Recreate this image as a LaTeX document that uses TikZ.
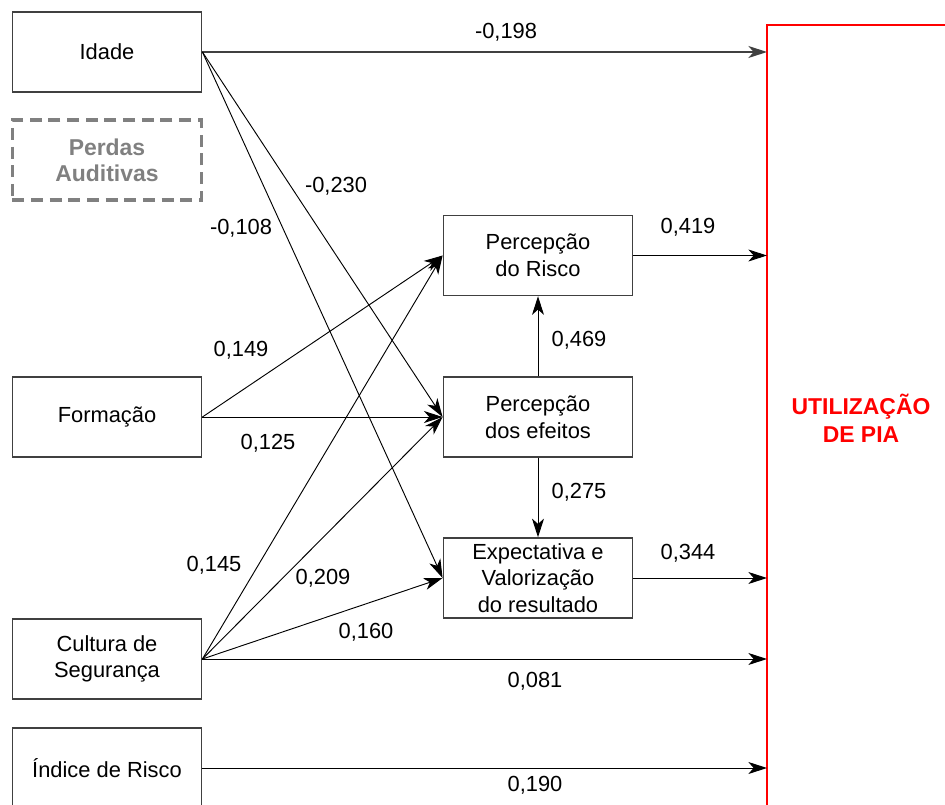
\documentclass[tikz,border=0pt]{standalone}
\usepackage{fontspec}
\setmainfont{Liberation Sans}
\usetikzlibrary{arrows.meta}
\definecolor{boxline}{HTML}{404040}
\definecolor{hidden}{HTML}{808080}
\begin{document}
\begin{tikzpicture}[x=0.75pt,y=-0.75pt,
  every node/.style={font=\fontsize{16.4}{20}\selectfont, inner sep=0pt},
  block/.style={draw=boxline, line width=1.1pt, minimum width=142pt, minimum height=60pt, align=center},
  hiddenbox/.style={draw=hidden, line width=2.3pt, dash pattern=on 9pt off 5pt, minimum width=142pt, minimum height=60pt, align=center, text=hidden, font=\fontsize{17.2}{19.5}\selectfont\bfseries},
  path/.style={draw=black, line width=0.7pt, -{Stealth[length=14pt,width=9pt,inset=4pt]}},
  coef/.style={}
]
\useasboundingbox (0,0) rectangle (945,805);
\clip (0,0) rectangle (945,805);

% exogenous variables
\node[block] (idade) at (107,52) {Idade};
\node[hiddenbox] (perdas) at (107,160) {Perdas\\Auditivas};
\node[block] (form) at (107,417) {Formação};
\node[block] (cult) at (107,659) {Cultura de\\Segurança};
\node[block] (indice) at (107,768) {Índice de Risco};

% mediators
\node[block] (risco) at (538,255.5) {Percepção\\do Risco};
\node[block] (efeitos) at (538,417) {Percepção\\dos efeitos};
\node[block] (expect) at (538,578) {Expectativa e\\Valorização\\do resultado};

% outcome
\draw[red, line width=1.1pt] (960,25) -- (767,25) -- (767,830);
\node[text=red, align=center, font=\fontsize{17.2}{21}\selectfont\bfseries] (pia) at (861,418) {UTILIZAÇÃO\\DE PIA};
\coordinate (u1) at (767,52);
\coordinate (u2) at (767,255.5);
\coordinate (u3) at (767,578);
\coordinate (u4) at (767,659);
\coordinate (u5) at (767,768);

% paths
\draw[path, draw=black!75, line width=1pt] (idade.east) -- (u1);
\draw[path] (idade.east) -- (efeitos.west);
\draw[path] (idade.east) -- (expect.west);
\draw[path] (form.east) -- (risco.west);
\draw[path] (form.east) -- (efeitos.west);
\draw[path] (cult.east) -- (risco.west);
\draw[path] (cult.east) -- (efeitos.west);
\draw[path] (cult.east) -- (expect.west);
\draw[path] (cult.east) -- (u4);
\draw[path] (indice.east) -- (u5);
\draw[path] (risco.east) -- (u2);
\draw[path] (expect.east) -- (u3);
\draw[path] (efeitos.north) -- (risco.south);
\draw[path] (efeitos.south) -- (expect.north);

% coefficients
\node[coef] at (506,32) {-0,198};
\node[coef] at (336,186) {-0,230};
\node[coef] at (241,228) {-0,108};
\node[coef] at (241,350) {0,149};
\node[coef] at (268,443) {0,125};
\node[coef] at (214,565) {0,145};
\node[coef] at (323,578) {0,209};
\node[coef] at (366,632) {0,160};
\node[coef] at (535,681) {0,081};
\node[coef] at (535,785) {0,190};
\node[coef] at (688,227) {0,419};
\node[coef] at (579,340) {0,469};
\node[coef] at (579,492) {0,275};
\node[coef] at (688,553) {0,344};
\end{tikzpicture}
\end{document}
